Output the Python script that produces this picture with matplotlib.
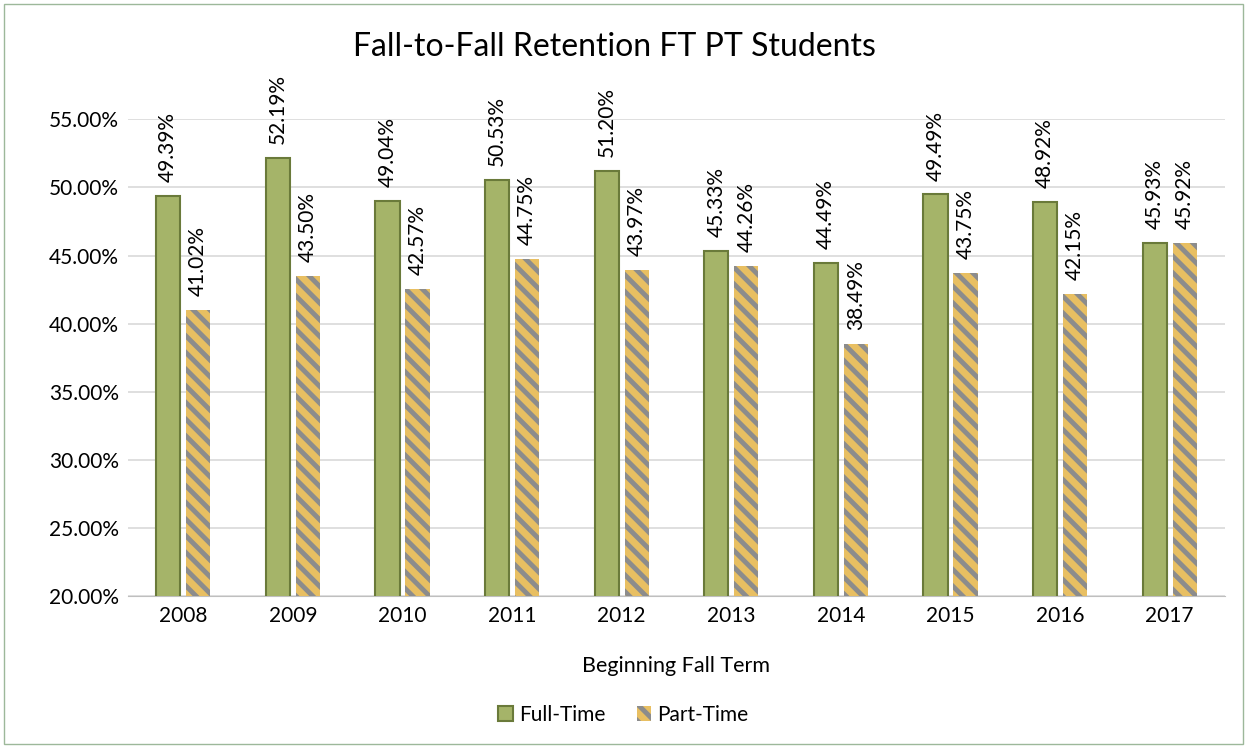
import numpy as np
import matplotlib.pyplot as plt
from matplotlib.patches import Rectangle

years = ['2008', '2009', '2010', '2011', '2012', '2013', '2014', '2015', '2016', '2017']
full_time = [49.39, 52.19, 49.04, 50.53, 51.20, 45.33, 44.49, 49.49, 48.92, 45.93]
part_time = [41.02, 43.50, 42.57, 44.75, 43.97, 44.26, 38.49, 43.75, 42.15, 45.92]

plt.rcParams['font.family'] = ['Lato', 'DejaVu Sans']
plt.rcParams['hatch.linewidth'] = 3.5
plt.rcParams['hatch.color'] = '#8C8C8C'

fig = plt.figure(figsize=(12.47, 7.46), dpi=100)
ax = fig.add_axes([0.103, 0.201, 0.879, 0.639])

x = np.arange(len(years))
w = 0.22
off = 0.137
ft_bars = ax.bar(x - off, full_time, w, color='#A5B469', edgecolor='#6A7A3A', linewidth=1.5,
                 label='Full-Time', zorder=3)
pt_bars = ax.bar(x + off, part_time, w, color='#E8BF62', edgecolor='#8C8C8C', linewidth=0,
                 hatch='\\\\', label='Part-Time', zorder=3)

for bars, vals in [(ft_bars, full_time), (pt_bars, part_time)]:
    for b, v in zip(bars, vals):
        ax.annotate(f'{v:.2f}%', (b.get_x() + b.get_width() / 2, v), xytext=(0, 10),
                    textcoords='offset points', rotation=90, ha='center', va='bottom',
                    fontsize=15, annotation_clip=False)

ax.set_ylim(20, 55)
ax.set_xlim(-0.5, len(years) - 0.5)
ax.set_yticks(np.arange(20, 55.1, 5))
ax.set_yticklabels([f'{t:.2f}%' for t in np.arange(20, 55.1, 5)], fontsize=15)
ax.set_xticks(x)
ax.set_xticklabels(years, fontsize=15)
ax.tick_params(length=0, pad=7)
ax.grid(axis='y', color='#D9D9D9', linewidth=1.2, zorder=0)
for s in ['top', 'right', 'left']:
    ax.spines[s].set_visible(False)
ax.spines['bottom'].set_color('#BFBFBF')
ax.set_xlabel('Beginning Fall Term', fontsize=15.5, labelpad=22)

fig.text(0.493, 0.937, 'Fall-to-Fall Retention FT PT Students', ha='center', va='center', fontsize=23)
fig.legend(handles=[ft_bars, pt_bars], loc='center', bbox_to_anchor=(0.5, 0.042), ncol=2,
           frameon=False, fontsize=15, handlelength=0.7, handleheight=0.7, columnspacing=1.5,
           handletextpad=0.3)

fig.patches.append(Rectangle((0.003, 0.003), 0.994, 0.992, transform=fig.transFigure,
                             fill=False, edgecolor='#9DB89A', linewidth=1))

fig.savefig('out.png', dpi=100)
